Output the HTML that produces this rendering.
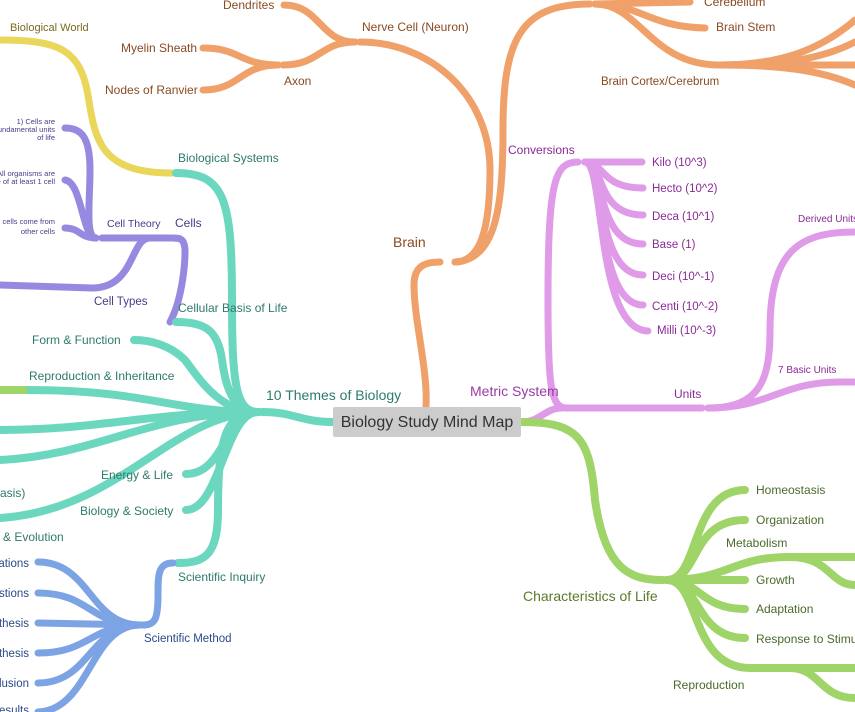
<!DOCTYPE html>
<html><head><meta charset="utf-8"><style>
html,body{margin:0;padding:0;background:#fff;}
svg{display:block;font-family:"Liberation Sans",sans-serif;}
</style></head><body>
<svg width="855" height="712" viewBox="0 0 855 712" xmlns="http://www.w3.org/2000/svg">
<g fill="none" stroke-linecap="round">
<!-- orange -->
<g stroke="#f0a069" stroke-width="7">
<path d="M426,406 C428,370 414,320 414,285 C414,266 425,262 440,262"/>
<path d="M455,262 C480,262 490,230 490,170 C490,95 430,42 360,42"/>
<path d="M455,262 C495,260 503,210 503,130 C503,40 520,4 590,4"/>
<path d="M595,4 L690,2"/>
<path d="M595,4 C640,4 650,27 705,28"/>
<path d="M595,4 C640,4 650,65 720,65"/>
<path d="M720,65 C780,65 820,50 855,20"/>
<path d="M720,65 C780,65 820,60 855,42"/>
<path d="M720,65 L855,65"/>
<path d="M720,65 C780,65 820,70 855,85"/>
<path d="M355,42 C320,42 320,5 284,5"/>
<path d="M355,42 C320,42 320,65 283,65"/>
<path d="M278,65 C240,65 240,48 203,48"/>
<path d="M278,65 C240,65 240,90 203,90"/>
</g>
<!-- yellow -->
<path stroke="#e9d65a" stroke-width="7" d="M172,173 C100,173 95,140 88,95 C80,50 60,40 0,40"/>
<!-- purple cells -->
<g stroke="#968ae0" stroke-width="7">
<path d="M170,322 C182,300 185,265 185,252 C185,238 180,238 172,238"/>
<path d="M170,238 L102,238"/>
<path d="M150,238 C130,238 135,288 92,288 L0,285"/>
<path d="M96,238 C85,238 90,200 90,170 C90,135 80,128 65,128"/>
<path d="M96,238 C82,238 82,182 65,180"/>
<path d="M96,238 C80,238 80,228 65,228"/>
</g>
<!-- teal -->
<g stroke="#6cd7bf" stroke-width="8">
<path d="M333,422 C300,422 295,412 262,412"/>
<path d="M258,412 C235,412 232,380 232,300 C232,200 225,173 176,173"/>
<path d="M258,412 C230,412 225,380 222,360 C218,330 205,322 176,322"/>
<path d="M258,412 C220,412 200,380 185,360 C170,345 150,340 134,340"/>
<path d="M258,412 C170,412 150,390 26,390"/>
<path d="M258,412 C150,412 100,430 0,430"/>
<path d="M258,412 C150,412 100,455 0,460"/>
<path d="M258,412 C170,415 120,510 0,518"/>
<path d="M258,412 C225,412 225,474 186,474"/>
<path d="M258,412 C225,412 220,510 186,510"/>
<path d="M258,412 C225,412 218,440 218,510 C218,555 205,563 178,563"/>
</g>
<path stroke="#9ed468" stroke-width="8" d="M0,390 L24,390"/>
<!-- blue -->
<g stroke="#7ca3e3" stroke-width="7">
<path d="M173,563 C158,563 158,575 158,595 C158,620 155,625 142,625"/>
<path d="M140,625 C90,625 90,562 38,562"/>
<path d="M140,625 C90,625 90,593 38,593"/>
<path d="M140,625 L38,623"/>
<path d="M140,625 C90,625 90,653 38,653"/>
<path d="M140,625 C90,625 90,683 38,683"/>
<path d="M140,625 C90,625 90,710 38,712"/>
</g>
<!-- pink -->
<g stroke="#df9ae8" stroke-width="7">
<path d="M522,422 C540,422 545,408 562,408"/>
<path d="M566,408 C550,408 548,380 548,300 C548,180 555,162 578,162"/>
<path d="M566,408 L702,408"/>
<path d="M585,162 L642,162"/>
<path d="M585,162 C605,162 600,188 643,188"/>
<path d="M585,162 C605,162 595,215 643,215"/>
<path d="M585,162 C605,162 595,244 643,244"/>
<path d="M585,162 C605,162 595,275 643,275"/>
<path d="M585,162 C605,162 595,305 643,305"/>
<path d="M585,162 C605,162 595,330 648,331"/>
<path d="M708,408 C760,408 770,380 770,330 C770,250 800,232 855,232"/>
<path d="M708,408 C770,408 780,382 840,382 L855,382"/>
</g>
<!-- green -->
<g stroke="#9ed468" stroke-width="8">
<path d="M522,422 C580,422 590,440 595,500 C605,570 630,580 663,580"/>
<path d="M667,580 C700,580 690,490 745,490"/>
<path d="M667,580 C700,580 690,520 745,520"/>
<path d="M667,580 C730,580 730,557 790,557 L855,557"/>
<path d="M790,557 C830,557 830,585 855,585"/>
<path d="M667,580 L745,580"/>
<path d="M667,580 C700,580 700,609 745,609"/>
<path d="M667,580 C700,580 695,638 745,638"/>
<path d="M667,580 C700,580 690,668 750,668 L855,668"/>
<path d="M790,668 C820,668 820,698 855,698"/>
</g>
</g>
<!-- center box -->
<rect x="333" y="407" width="188" height="30" rx="2" fill="#cccccc"/>
<text x="427" y="427" font-size="16" fill="#333" text-anchor="middle">Biology Study Mind Map</text>
<g font-size="14">
<text x="266" y="400" fill="#2e7a6b">10 Themes of Biology</text>
<text x="470" y="396" fill="#9a3aa5">Metric System</text>
<text x="393" y="247" fill="#8a4a22">Brain</text>
<text x="523" y="601" fill="#5a7a2a">Characteristics of Life</text>
</g>
<g font-size="12">
<g fill="#8a4a22">
<text x="362" y="31">Nerve Cell (Neuron)</text>
<text x="223" y="9">Dendrites</text>
<text x="284" y="85">Axon</text>
<text x="121" y="52">Myelin Sheath</text>
<text x="105" y="94">Nodes of Ranvier</text>
<text x="704" y="6">Cerebellum</text>
<text x="716" y="31">Brain Stem</text>
<text x="601" y="85" font-size="11.5">Brain Cortex/Cerebrum</text>
</g>
<text x="10" y="31" fill="#7a6a22" font-size="11">Biological World</text>
<g fill="#2e7a6b">
<text x="178" y="162">Biological Systems</text>
<text x="178" y="312">Cellular Basis of Life</text>
<text x="32" y="344">Form &amp; Function</text>
<text x="29" y="380">Reproduction &amp; Inheritance</text>
<text x="0" y="497">asis)</text>
<text x="3" y="541">&amp; Evolution</text>
<text x="101" y="479">Energy &amp; Life</text>
<text x="80" y="515">Biology &amp; Society</text>
<text x="178" y="581">Scientific Inquiry</text>
</g>
<g fill="#4a3a8a">
<text x="175" y="227">Cells</text>
<text x="107" y="227" font-size="10.5">Cell Theory</text>
<text x="94" y="305" font-size="11.5">Cell Types</text>
</g>
<g fill="#4a3a8a" font-size="7.5" text-anchor="end">
<text x="55" y="124">1) Cells are</text>
<text x="55" y="132">undamental units</text>
<text x="55" y="140">of life</text>
<text x="55" y="176">All organisms are</text>
<text x="55" y="184">e of at least 1 cell</text>
<text x="55" y="224">cells come from</text>
<text x="55" y="234">other cells</text>
</g>
<g fill="#2a4a8a" font-size="11.5">
<text x="144" y="642">Scientific Method</text>
<text x="29" y="567" text-anchor="end">ations</text>
<text x="29" y="597" text-anchor="end">stions</text>
<text x="29" y="627" text-anchor="end">thesis</text>
<text x="29" y="657" text-anchor="end">thesis</text>
<text x="29" y="687" text-anchor="end">lusion</text>
<text x="29" y="714" text-anchor="end">esults</text>
</g>
<g fill="#8a2a95" font-size="11.5">
<text x="508" y="154" font-size="12">Conversions</text>
<text x="652" y="166">Kilo (10^3)</text>
<text x="652" y="192">Hecto (10^2)</text>
<text x="652" y="220">Deca (10^1)</text>
<text x="652" y="248">Base (1)</text>
<text x="652" y="280">Deci (10^-1)</text>
<text x="652" y="310">Centi (10^-2)</text>
<text x="657" y="334">Milli (10^-3)</text>
<text x="674" y="398" font-size="12">Units</text>
<text x="798" y="222" font-size="10">Derived Units</text>
<text x="778" y="373" font-size="10">7 Basic Units</text>
</g>
<g fill="#4a6a2a">
<text x="756" y="494">Homeostasis</text>
<text x="756" y="524">Organization</text>
<text x="726" y="547">Metabolism</text>
<text x="756" y="584">Growth</text>
<text x="756" y="613">Adaptation</text>
<text x="756" y="643">Response to Stimuli</text>
<text x="673" y="689">Reproduction</text>
</g>
</g>
</svg>
</body></html>
